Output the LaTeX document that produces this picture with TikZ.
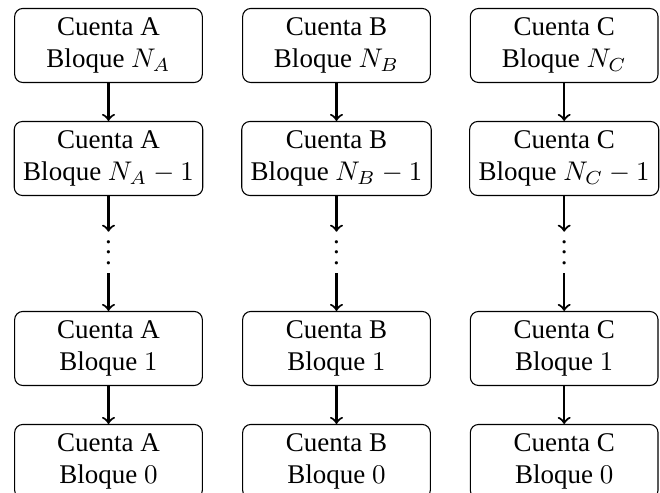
\documentclass[tikz,border=0pt]{standalone}
\usepackage[no-math]{fontspec}
\setmainfont{Liberation Serif}
\tikzset{
  blockbox/.style={draw, line width=0.4pt, rounded corners=3pt, align=center,
    minimum width=69.5pt, minimum height=27pt, inner sep=3.33pt},
  dotsnode/.style={inner sep=0pt, text height=9pt, text depth=0pt, minimum height=15pt},
  link/.style={->, line width=0.8pt}
}
\begin{document}
\begin{tikzpicture}[x=0.37037pt, y=-0.37037pt]
\useasboundingbox (0,0) rectangle (660,493);
\foreach \c/\x in {A/108.5, B/336.5, C/564.2} {
  \node[blockbox] (\c1) at (\x,45.5) {Cuenta \c\\Bloque $N_\c$};
  \node[blockbox] (\c2) at (\x,158.5) {Cuenta \c\\Bloque $N_\c-1$};
  \node[dotsnode] (\c v) at (\x,252.5) {$\vdots$};
  \node[blockbox] (\c3) at (\x,348.5) {Cuenta \c\\Bloque $1$};
  \node[blockbox] (\c4) at (\x,461.5) {Cuenta \c\\Bloque $0$};
  \draw[link] (\c1) -- (\c2);
  \draw[link] (\c2) -- (\c v);
  \draw[link] (\c v) -- (\c3);
  \draw[link] (\c3) -- (\c4);
}
\end{tikzpicture}
\end{document}
